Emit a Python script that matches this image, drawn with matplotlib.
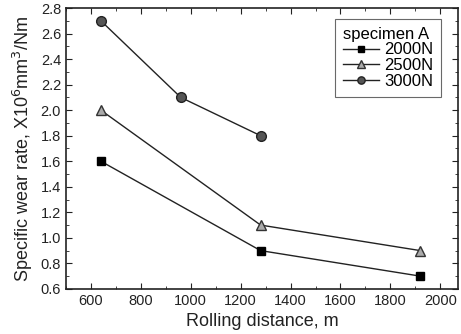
import matplotlib
matplotlib.use("Agg")
import matplotlib.pyplot as plt
from matplotlib.ticker import MultipleLocator

plt.rcParams['font.family'] = ['Liberation Sans', 'DejaVu Sans']

x_2000 = [640, 1280, 1920]
y_2000 = [1.6, 0.9, 0.7]
x_2500 = [640, 1280, 1920]
y_2500 = [2.0, 1.1, 0.9]
x_3000 = [640, 960, 1280]
y_3000 = [2.7, 2.1, 1.8]
labels = ['2000N', '2500N', '3000N']

fig = plt.figure(figsize=(4.61, 3.34), dpi=100)
ax = fig.add_axes([0.143, 0.135, 0.85, 0.841])

ax.plot(x_2000, y_2000, '-s', color='#222222', lw=1, ms=6, mfc='black', mec='black', label=labels[0])
ax.plot(x_2500, y_2500, '-^', color='#222222', lw=1, ms=7, mfc='#aaaaaa', mec='#333333', label=labels[1])
ax.plot(x_3000, y_3000, '-o', color='#222222', lw=1, ms=7, mfc='#555555', mec='#222222', label=labels[2])

ax.set_xlim(500, 2070)
ax.set_ylim(0.6, 2.8)
ax.xaxis.set_major_locator(MultipleLocator(200))
ax.xaxis.set_minor_locator(MultipleLocator(100))
ax.yaxis.set_major_locator(MultipleLocator(0.2))
ax.yaxis.set_minor_locator(MultipleLocator(0.1))
ax.yaxis.set_major_formatter(matplotlib.ticker.FormatStrFormatter('%.1f'))
ax.tick_params(which='both', direction='in', top=True, right=True, labelsize=10.5, colors='#222222')
ax.tick_params(which='major', length=4)
ax.tick_params(which='minor', length=2)
for s in ax.spines.values():
    s.set_linewidth(1.2)
    s.set_color('#222222')

ax.set_xlabel('Rolling distance, m', fontsize=13, color='#222222', labelpad=4)
ax.set_ylabel('Specific wear rate, X10$^{6}$mm$^{3}$/Nm', fontsize=13, color='#222222', labelpad=4)

leg = ax.legend(title='specimen A', loc='upper right', fontsize=12, title_fontsize=12,
                fancybox=False, edgecolor='#444444', handlelength=2.2,
                borderpad=0.45, labelspacing=0.05, handletextpad=0.3, markerscale=0.75,
                bbox_to_anchor=(0.978, 0.99))
leg._legend_box.align = 'left'
leg.get_frame().set_linewidth(0.8)

fig.savefig('out.png', dpi=100)
